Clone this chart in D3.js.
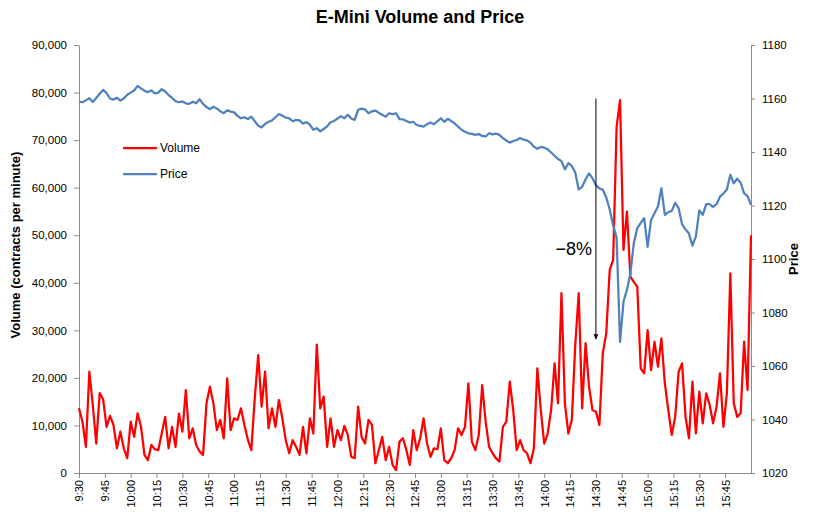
<!DOCTYPE html>
<html>
<head>
<meta charset="utf-8">
<script src="https://cdn.jsdelivr.net/npm/d3@7"></script>
<style>
  body { margin: 0; background: #fff; }
  svg { font-family: "Liberation Sans", Arial, sans-serif; }
  .axis path, .axis line { stroke: #8c8c8c; }
  .axis text { fill: #000; }
</style>
</head>
<body>
<div id="chart"></div>
<script>
// values, one sample every 2 minutes from 9:30 to 16:00
const volume = [
  13600, 10800, 5500, 21300, 14300, 6200, 16800, 15500, 9700, 12000,
  10100, 5200, 8700, 5200, 3100, 10800, 7600, 12550, 9700, 3800,
  2700, 5900, 5000, 4800, 8300, 11800, 5200, 9700, 5500, 12500,
  8700, 17450, 7300, 9400, 5900, 4500, 3800, 14650, 18150, 14650,
  9000, 11150, 7300, 19900, 9000, 11500, 11150, 13600, 10100, 7000,
  4800, 15700, 24800, 13950, 21300, 9400, 13600, 9700, 15350, 11500,
  6900, 4150, 6900, 5500, 3800, 9700, 4150, 11500, 8300, 27000,
  13600, 16050, 5500, 11500, 5500, 9000, 6900, 9900, 8000, 3400,
  3100, 13950, 7600, 6200, 11150, 10100, 2050, 4800, 7600, 2700,
  5500, 1700, 600, 6600, 7300, 4800, 1700, 9000, 4800, 7300,
  11500, 6200, 3400, 5200, 5000, 9400, 2700, 2050, 3100, 4800,
  9400, 8000, 9700, 18850, 6600, 4800, 8000, 18500, 10800, 5500,
  4150, 3100, 2400, 9700, 10800, 19200, 13250, 4800, 6900, 4800,
  4150, 2050, 5200, 22000, 13250, 6200, 8300, 13250, 23050, 14650,
  37800, 14650, 8300, 11150, 26900, 37800, 13600, 27300, 18150, 13250,
  12900, 10100, 25200, 29400, 42700, 44800, 72800, 78400, 46900, 54950,
  41300, 40200, 39200, 22000, 20950, 30050, 21650, 27600, 22350, 28300,
  18850, 13250, 8000, 11800, 21300, 23050, 11800, 7300, 19200, 8300,
  17100, 10450, 16750, 14300, 10450, 13950, 20950, 9700, 16750, 42000,
  14650, 11800, 12550, 27600, 17450, 50000
]

const price = [
  1158.8, 1158.6, 1159.3, 1160.1, 1158.7, 1160.2, 1161.8, 1163.2, 1162.0, 1160.0,
  1159.6, 1160.3, 1159.2, 1160.0, 1161.4, 1162.2, 1163.0, 1164.7, 1163.8, 1162.9,
  1162.4, 1163.0, 1161.9, 1162.2, 1163.5, 1162.6, 1161.3, 1160.2, 1159.0, 1158.6,
  1158.9, 1158.2, 1158.0, 1158.8, 1158.2, 1159.7, 1158.0, 1156.8, 1156.0, 1156.9,
  1156.3, 1155.2, 1154.5, 1155.6, 1155.1, 1154.8, 1153.5, 1152.6, 1153.0, 1152.3,
  1153.2, 1151.5, 1149.8, 1149.2, 1150.5, 1151.3, 1151.8, 1153.0, 1154.2, 1153.6,
  1152.9, 1152.6, 1151.5, 1152.0, 1151.8, 1150.6, 1151.2, 1150.2, 1148.3, 1148.9,
  1147.7, 1148.6, 1149.6, 1151.1, 1151.6, 1152.5, 1153.4, 1152.6, 1153.9, 1152.5,
  1152.0, 1155.8, 1156.2, 1155.9, 1154.5, 1155.2, 1155.5, 1154.6, 1153.9, 1153.2,
  1154.5, 1154.1, 1154.5, 1152.3, 1152.2, 1151.6, 1151.0, 1151.3, 1150.1, 1149.8,
  1149.5, 1150.4, 1151.0, 1150.4, 1151.5, 1152.6, 1151.3, 1152.4, 1151.6, 1150.7,
  1149.5, 1148.3, 1147.6, 1147.0, 1146.8, 1146.4, 1146.7, 1146.0, 1145.8, 1147.0,
  1146.6, 1146.9, 1146.4, 1145.2, 1144.3, 1143.5, 1144.1, 1144.5, 1145.2, 1144.6,
  1144.3, 1143.5, 1142.0, 1141.2, 1141.9, 1141.6, 1141.0, 1139.8, 1138.6, 1137.4,
  1136.6, 1133.5, 1135.8, 1134.8, 1132.3, 1126.0, 1127.0, 1129.8, 1132.0, 1130.2,
  1127.6, 1126.4, 1125.9, 1123.0, 1118.5, 1112.5, 1108.0, 1069.0, 1084.0, 1088.5,
  1094.6, 1106.0, 1111.5, 1113.5, 1115.3, 1104.5, 1114.6, 1117.1, 1119.6, 1126.5,
  1116.5, 1117.5, 1118.0, 1121.0, 1119.0, 1113.0, 1111.0, 1109.5, 1105.0, 1108.4,
  1118.2, 1116.5, 1120.5, 1120.5, 1119.5, 1120.5, 1123.3, 1124.5, 1126.0, 1131.5,
  1128.3, 1130.0, 1128.5, 1124.5, 1123.5, 1120.2
]

const timeLabels = ['9:30', '9:45', '10:00', '10:15', '10:30', '10:45', '11:00', '11:15',
  '11:30', '11:45', '12:00', '12:15', '12:30', '12:45', '13:00', '13:15', '13:30',
  '13:45', '14:00', '14:15', '14:30', '14:45', '15:00', '15:15', '15:30', '15:45']
const volumeTicks = [0, 10000, 20000, 30000, 40000, 50000, 60000, 70000, 80000, 90000]
const priceTicks = [1020, 1040, 1060, 1080, 1100, 1120, 1140, 1160, 1180]
const seriesNames = ['Volume', 'Price']
const colors = ['#ff0000', '#4f81bd']

const width = 813
const height = 519
const plot = { left: 79, right: 751, top: 45, bottom: 473 }
const stepMinutes = 2
const sessionMinutes = 390

const svg = d3.select('#chart')
  .append('svg')
  .attr('width', width)
  .attr('height', height)

const x = d3.scaleLinear().domain([0, sessionMinutes]).range([plot.left, plot.right])
const yVol = d3.scaleLinear().domain([0, 90000]).range([plot.bottom, plot.top])
const yPrice = d3.scaleLinear().domain([1020, 1180]).range([plot.bottom, plot.top])

// title
svg.append('text')
  .attr('x', 420)
  .attr('y', 23)
  .attr('text-anchor', 'middle')
  .style('font-size', '18px')
  .style('font-weight', 'bold')
  .text('E-Mini Volume and Price')

// axes
svg.append('g')
  .classed('axis', true)
  .attr('transform', `translate(${plot.left},0)`)
  .call(d3.axisLeft(yVol).tickValues(volumeTicks).tickFormat(d3.format(',')).tickSize(5).tickPadding(7).tickSizeOuter(0))
  .selectAll('text')
  .style('font-size', '11.5px')

svg.append('g')
  .classed('axis', true)
  .attr('transform', `translate(${plot.right},0)`)
  .call(d3.axisRight(yPrice).tickValues(priceTicks).tickFormat(d3.format('d')).tickSize(4).tickPadding(7).tickSizeOuter(0))
  .selectAll('text')
  .style('font-size', '11.5px')

svg.append('g')
  .classed('axis', true)
  .attr('transform', `translate(0,${plot.bottom})`)
  .call(d3.axisBottom(x)
    .tickValues(timeLabels.map((t, i) => i * 15))
    .tickFormat((d, i) => timeLabels[i])
    .tickSize(5)
    .tickSizeOuter(0))
  .selectAll('text')
  .attr('transform', 'rotate(-90)')
  .attr('x', -7)
  .attr('y', 0)
  .attr('dy', '0.35em')
  .attr('text-anchor', 'end')
  .style('font-size', '11px')

// axis titles
svg.append('text')
  .attr('transform', 'translate(20,245) rotate(-90)')
  .attr('text-anchor', 'middle')
  .style('font-size', '13px')
  .style('font-weight', 'bold')
  .text('Volume (contracts per minute)')

svg.append('text')
  .attr('transform', 'translate(798,259) rotate(-90)')
  .attr('text-anchor', 'middle')
  .style('font-size', '13px')
  .style('font-weight', 'bold')
  .text('Price')

// series
const volLine = d3.line()
  .x((d, i) => x(i * stepMinutes))
  .y(d => yVol(d))

const priceLine = d3.line()
  .x((d, i) => x(i * stepMinutes))
  .y(d => yPrice(d))

svg.append('path')
  .datum(volume)
  .attr('d', volLine)
  .attr('fill', 'none')
  .attr('stroke', colors[0])
  .attr('stroke-width', 2.25)
  .attr('stroke-linejoin', 'round')

svg.append('path')
  .datum(price)
  .attr('d', priceLine)
  .attr('fill', 'none')
  .attr('stroke', colors[1])
  .attr('stroke-width', 2.25)
  .attr('stroke-linejoin', 'round')

// legend
const legend = svg.append('g').classed('legend', true)
seriesNames.forEach((name, idx) => {
  const ly = 148 + idx * 26
  legend.append('line')
    .attr('x1', 123)
    .attr('x2', 157)
    .attr('y1', ly)
    .attr('y2', ly)
    .attr('stroke', colors[idx])
    .attr('stroke-width', 2.25)
  legend.append('text')
    .attr('x', 160)
    .attr('y', ly)
    .attr('dy', '0.35em')
    .style('font-size', '12px')
    .text(name)
})

// -8% annotation, drawn against the price scale
const defs = svg.append('defs')
defs.append('marker')
  .attr('id', 'arrow')
  .attr('viewBox', '0 0 10 10')
  .attr('refX', 10)
  .attr('refY', 5)
  .attr('markerWidth', 5)
  .attr('markerHeight', 5)
  .attr('orient', 'auto')
  .append('path')
  .attr('d', 'M0,0 L10,5 L0,10 z')
  .attr('fill', '#000')

const arrowX = x(300)
svg.append('line')
  .attr('x1', arrowX)
  .attr('x2', arrowX)
  .attr('y1', yPrice(1160))
  .attr('y2', yPrice(1070))
  .attr('stroke', '#000')
  .attr('stroke-width', 1)
  .attr('marker-end', 'url(#arrow)')

svg.append('text')
  .attr('x', arrowX - 4)
  .attr('y', 255)
  .attr('text-anchor', 'end')
  .style('font-size', '18px')
  .text('\u22128%')
</script>
</body>
</html>
